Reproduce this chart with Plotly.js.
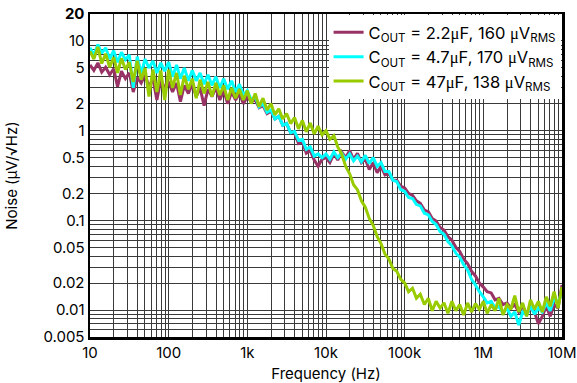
<!DOCTYPE html>
<html>
<head>
<meta charset="utf-8">
<script src="https://cdn.plot.ly/plotly-3.0.1.min.js"></script>
<style>html,body{margin:0;padding:0;background:#fff;}#chart{width:577px;height:383px;}</style>
</head>
<body>
<div id="chart"></div>
<script>
// Frequency points (Hz), 20 per decade
const freq = [
  10, 11.2, 12.6, 14.1, 15.8, 17.8, 20, 22.4, 25.1, 28.2, 31.6, 35.5, 39.8, 44.7, 50.1, 56.2, 63.1, 70.8, 79.4, 89.1,
  100, 112, 126, 141, 158, 178, 200, 224, 251, 282, 316, 355, 398, 447, 501, 562, 631, 708, 794, 891,
  1000, 1120, 1260, 1410, 1580, 1780, 2000, 2240, 2510, 2820, 3160, 3550, 3980, 4470, 5010, 5620, 6310, 7080, 7940, 8910,
  10000, 11200, 12600, 14100, 15800, 17800, 20000, 22400, 25100, 28200, 31600, 35500, 39800, 44700, 50100, 56200, 63100, 70800, 79400, 89100,
  100000, 112000, 126000, 141000, 158000, 178000, 200000, 224000, 251000, 282000, 316000, 355000, 398000, 447000, 501000, 562000, 631000, 708000, 794000, 891000,
  1000000, 1120000, 1260000, 1410000, 1580000, 1780000, 2000000, 2240000, 2510000, 2820000, 3160000, 3550000, 3980000, 4470000, 5010000, 5620000, 6310000, 7080000, 7940000, 8910000,
  10000000
];

// Noise density (uV/sqrt(Hz)), C_OUT = 2.2 uF
const noise2u2 = [
  5.4, 4.7, 5.7, 4.5, 5.1, 4.2, 4.9, 3.1, 4.6, 3.8, 4.4, 2.7, 3.9, 3.4, 4.2, 3.1, 3.8, 2.2, 3.7, 3.0,
  3.5, 2.7, 3.4, 2.1, 3.2, 2.6, 3.3, 2.4, 3.0, 1.9, 2.9, 2.4, 3.0, 2.2, 2.8, 2.0, 2.7, 2.2, 2.6, 2.0,
  2.4, 2.1, 2.2, 1.8, 1.9, 1.55, 1.65, 1.35, 1.45, 1.15, 1.2, 0.95, 0.95, 0.72, 0.75, 0.56, 0.6, 0.47, 0.4, 0.48,
  0.5, 0.44, 0.55, 0.47, 0.58, 0.5, 0.6, 0.48, 0.56, 0.44, 0.48, 0.37, 0.44, 0.34, 0.4, 0.32, 0.33, 0.28, 0.28, 0.24,
  0.23, 0.2, 0.19, 0.165, 0.155, 0.13, 0.125, 0.105, 0.098, 0.083, 0.078, 0.066, 0.06, 0.05, 0.045, 0.037, 0.033, 0.027, 0.024, 0.02,
  0.018, 0.016, 0.0155, 0.013, 0.0135, 0.0115, 0.012, 0.0105, 0.0115, 0.0095, 0.011, 0.009, 0.0105, 0.0095, 0.007, 0.0085, 0.011, 0.0085, 0.0115, 0.0105,
  0.019
];

// Noise density (uV/sqrt(Hz)), C_OUT = 4.7 uF
const noise4u7 = [
  8.4, 7.0, 9.1, 7.3, 8.4, 6.3, 7.8, 5.8, 7.5, 6.2, 7.0, 3.0, 6.7, 4.3, 6.3, 5.0, 6.0, 4.4, 5.7, 4.6,
  5.8, 4.0, 5.4, 3.8, 5.0, 3.6, 4.7, 3.6, 4.4, 3.3, 4.2, 3.2, 4.0, 3.0, 3.8, 2.9, 3.6, 2.7, 3.3, 2.5,
  2.8, 2.2, 2.4, 1.85, 2.0, 1.6, 1.7, 1.35, 1.45, 1.15, 1.2, 0.95, 0.98, 0.78, 0.8, 0.62, 0.66, 0.52, 0.55, 0.5,
  0.55, 0.48, 0.58, 0.5, 0.56, 0.48, 0.55, 0.46, 0.52, 0.45, 0.53, 0.43, 0.5, 0.4, 0.44, 0.35, 0.35, 0.28, 0.27, 0.22,
  0.21, 0.18, 0.175, 0.15, 0.145, 0.12, 0.115, 0.097, 0.09, 0.075, 0.07, 0.058, 0.052, 0.043, 0.039, 0.032, 0.028, 0.022, 0.019, 0.016,
  0.014, 0.012, 0.0125, 0.0105, 0.011, 0.0092, 0.0105, 0.0085, 0.0095, 0.0068, 0.0095, 0.0088, 0.011, 0.009, 0.0105, 0.0095, 0.012, 0.0098, 0.0135, 0.012,
  0.016
];

// Noise density (uV/sqrt(Hz)), C_OUT = 47 uF
const noise47u = [
  7.7, 6.3, 8.6, 5.6, 7.2, 5.1, 6.6, 4.4, 6.4, 4.8, 5.8, 3.5, 6.0, 3.7, 5.0, 2.4, 4.8, 2.7, 4.7, 2.2,
  4.8, 3.0, 4.4, 2.5, 4.1, 2.9, 3.8, 2.3, 3.7, 2.6, 3.5, 2.4, 3.4, 2.5, 3.2, 2.2, 3.0, 2.3, 2.9, 2.2,
  2.8, 2.0, 2.6, 1.85, 2.3, 1.7, 2.0, 1.5, 1.75, 1.35, 1.55, 1.2, 1.4, 1.05, 1.3, 0.97, 1.22, 0.92, 1.12, 0.9,
  1.0, 0.8, 0.88, 0.66, 0.55, 0.4, 0.33, 0.25, 0.22, 0.165, 0.14, 0.105, 0.088, 0.066, 0.055, 0.042, 0.037, 0.029, 0.027, 0.022,
  0.02, 0.016, 0.0175, 0.0135, 0.015, 0.0115, 0.0135, 0.0098, 0.0125, 0.0105, 0.012, 0.0092, 0.0125, 0.0098, 0.0115, 0.0088, 0.012, 0.0095, 0.0118, 0.0102,
  0.0125, 0.0092, 0.0115, 0.0098, 0.0135, 0.0088, 0.0115, 0.0102, 0.0145, 0.0095, 0.012, 0.0085, 0.013, 0.0102, 0.0125, 0.0095, 0.014, 0.011, 0.016, 0.0105,
  0.018
];

const MU = '<span style="font-family:\'Liberation Serif\',serif">\u03bc</span>';
const seriesNames = [
  'C<sub>OUT</sub> = 2.2' + MU + 'F, 160 ' + MU + 'V<sub>RMS</sub>',
  'C<sub>OUT</sub> = 4.7' + MU + 'F, 170 ' + MU + 'V<sub>RMS</sub>',
  'C<sub>OUT</sub> = 47' + MU + 'F, 138 ' + MU + 'V<sub>RMS</sub>'
];
const seriesColors = ['#993366', '#00FFFF', '#99CC00'];

const xLabelVals = [10, 100, 1000, 10000, 100000, 1000000, 10000000];
const xLabelText = ['10', '100', '1k', '10k', '100k', '1M', '10M'];
const yLabelVals = [0.005, 0.01, 0.02, 0.05, 0.1, 0.2, 0.5, 1, 2, 5, 10, 20];
const yLabelText = ['0.005', '0.01', '0.02', '0.05', '0.1', '0.2', '0.5', '1', '2', '5', '10', '<b>20</b>'];

function gridTicks(lo, hi, labelVals, labelText) {
  const vals = [], text = [];
  for (let e = -4; e <= 8; e++) {
    for (let m = 1; m <= 9; m++) {
      const v = parseFloat((m * Math.pow(10, e)).toPrecision(6));
      if (v < lo * 0.999 || v > hi * 1.001) continue;
      vals.push(v);
      let t = '';
      for (let i = 0; i < labelVals.length; i++) {
        if (Math.abs(labelVals[i] - v) / v < 1e-6) t = labelText[i];
      }
      text.push(t);
    }
  }
  return {vals, text};
}
const xt = gridTicks(10, 1e7, xLabelVals, xLabelText);
const yt = gridTicks(0.005, 20, yLabelVals, yLabelText);

const data = [noise2u2, noise4u7, noise47u].map((ys, i) => ({
  x: freq, y: ys, type: 'scatter', mode: 'lines',
  name: seriesNames[i],
  line: {color: seriesColors[i], width: 3}
}));

const font = {family: 'Inter, "Liberation Sans", Arial, sans-serif', size: 15, color: '#000'};
const layout = {
  width: 577, height: 383,
  margin: {l: 90, r: 15, t: 14, b: 46},
  paper_bgcolor: '#fff', plot_bgcolor: '#fff',
  font: font,
  showlegend: true,
  legend: {
    x: 0.997, y: 0.997, xanchor: 'right', yanchor: 'top',
    bgcolor: '#fff', borderwidth: 0,
    font: {family: font.family, size: 16.5, color: '#000'},
    tracegroupgap: 0
  },
  xaxis: {
    type: 'log', range: [1, 7],
    tickmode: 'array', tickvals: xt.vals, ticktext: xt.text,
    ticks: '', showgrid: true, gridcolor: '#3a3a3a', gridwidth: 1,
    showline: true, linecolor: '#000', linewidth: 2.5, mirror: true,
    zeroline: false,
    title: {text: 'Frequency (Hz)', font: font, standoff: 12},
    tickfont: font
  },
  yaxis: {
    type: 'log', range: [Math.log10(0.005), Math.log10(20)],
    tickmode: 'array', tickvals: yt.vals, ticktext: yt.text,
    ticks: '', showgrid: true, gridcolor: '#3a3a3a', gridwidth: 1,
    showline: true, linecolor: '#000', linewidth: 2.5, mirror: true,
    zeroline: false,
    title: {text: 'Noise (\u03bcV/\u221aHz)', font: font, standoff: 22},
    tickfont: font
  }
};

Plotly.newPlot('chart', data, layout, {displayModeBar: false, staticPlot: true});
</script>
</body>
</html>
